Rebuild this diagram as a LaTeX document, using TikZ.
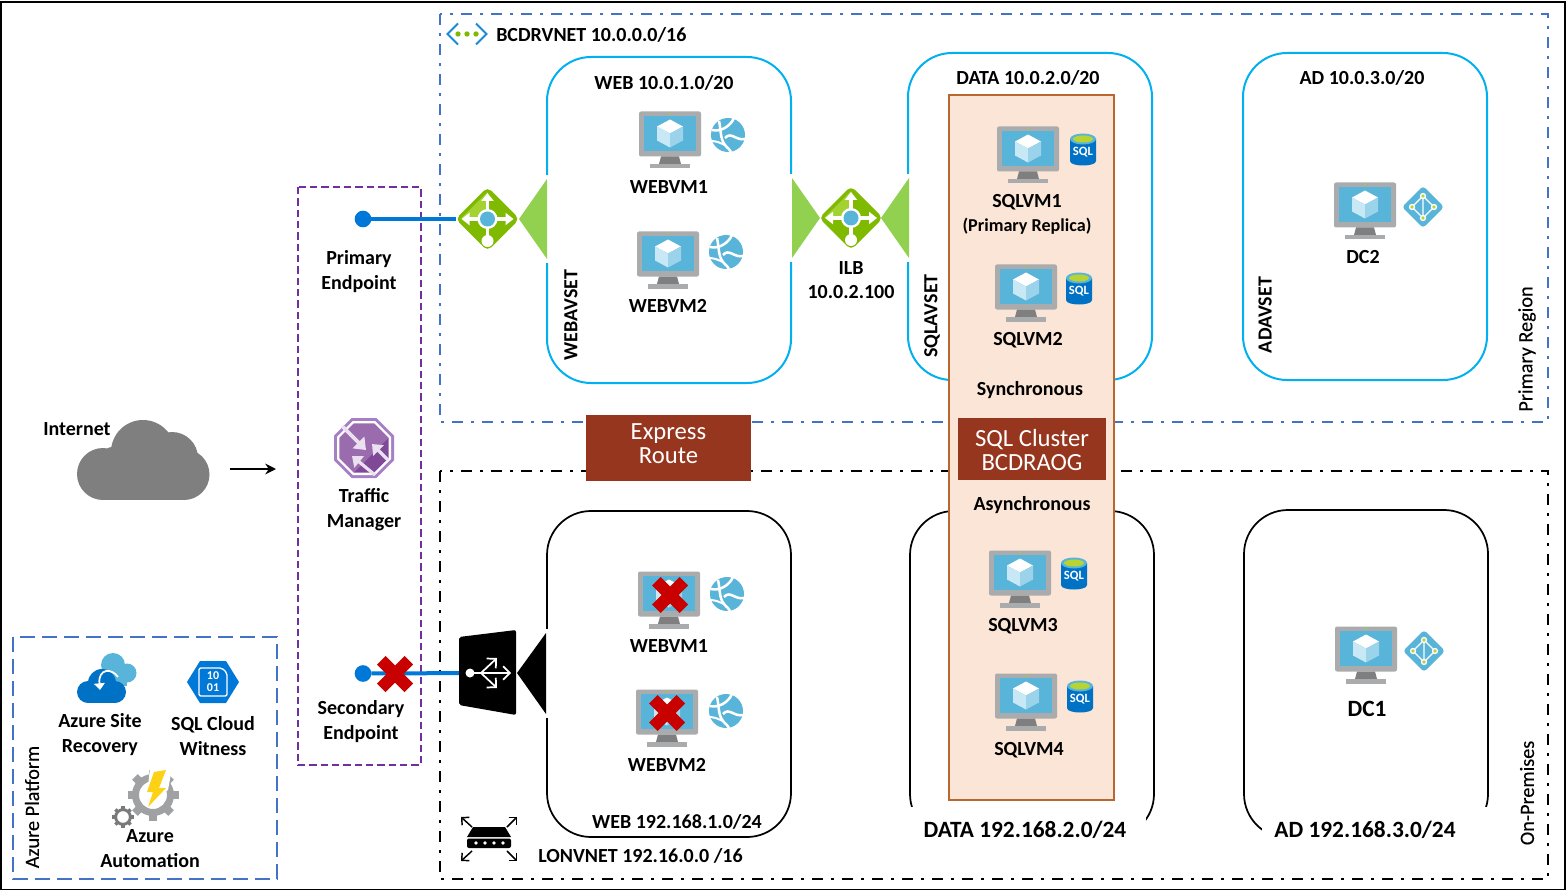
\documentclass[tikz,border=0pt]{standalone}
\usepackage{xcolor}
\usepackage{fontspec}
\setmainfont{Carlito}
\newfontfamily\sidefont{Carlito}[FakeBold=0.25]
\usetikzlibrary{arrows.meta}

\definecolor{vnetblue}{HTML}{4472C4}
\definecolor{subnetblue}{HTML}{00B0F0}
\definecolor{tmpurple}{HTML}{7030A0}
\definecolor{endblue}{HTML}{0078D7}
\definecolor{gategreen}{HTML}{92D050}
\definecolor{lbgreen}{HTML}{7FBA00}
\definecolor{lblight}{HTML}{A4D233}
\definecolor{clusterfill}{HTML}{FBE5D6}
\definecolor{clusteredge}{HTML}{B9672F}
\definecolor{brick}{HTML}{96361E}
\definecolor{vmgrey}{HTML}{A9ABAD}
\definecolor{vmstand}{HTML}{7F7F7F}
\definecolor{vmscreen}{HTML}{59B4D9}
\definecolor{cubeleft}{HTML}{C8E8F5}
\definecolor{cuberight}{HTML}{9BD3EA}
\definecolor{sqlblue}{HTML}{0072C6}
\definecolor{sqlgreen}{HTML}{B8D432}
\definecolor{crossred}{HTML}{C80000}
\definecolor{cloudgrey}{HTML}{7F7F7F}
\definecolor{tmdark}{HTML}{804998}
\definecolor{tmlight}{HTML}{9A6CAE}
\definecolor{tmedge}{HTML}{A67FC4}
\definecolor{tmarrow}{HTML}{EAE0F0}
\definecolor{gearlight}{HTML}{A0A1A2}
\definecolor{geardark}{HTML}{7A7A7A}
\definecolor{boltyellow}{HTML}{FCD116}

\begin{document}
\begin{tikzpicture}[
			x=0.75pt, y=-0.75pt,
			lab/.style={font=\fontsize{15}{18.4}\selectfont\bfseries, align=center, inner sep=0pt},
			biglab/.style={font=\fontsize{17.5}{18.4}\selectfont\bfseries, align=center, inner sep=0pt},
			smalllab/.style={font=\fontsize{13.6}{14}\selectfont\bfseries, align=center, inner sep=0pt},
			sidelab/.style={font=\fontsize{15.2}{16}\sidefont, inner sep=0pt, rotate=90},
			brickbox/.style={fill=brick, inner sep=0pt},
			bricklab/.style={text=white, font=\fontsize{18.5}{18}\selectfont, align=center, inner sep=0pt},
			vnetblueline/.style={draw=vnetblue, line width=1.9pt, dash pattern=on 8.25pt off 6pt on 2.25pt off 6pt},
			vnetblackline/.style={draw=black, line width=2.2pt, dash pattern=on 8.25pt off 6pt on 2.25pt off 6pt},
			subnetblue/.style={draw=subnetblue, line width=1.5pt, rounded corners=33pt},
			subnetblack/.style={draw=black, line width=1.3pt, rounded corners=33pt},
			iconbox/.style={minimum size=#1*0.75pt, inner sep=0pt, outer sep=0pt},
			enddot/.style={circle, fill=endblue, minimum size=12.5pt, inner sep=0pt, outer sep=0pt},
			endline/.style={draw=endblue, line width=3pt},
			arrow/.style={-{Stealth[length=8pt, width=8pt]}, line width=1.7pt},
			vmicon/.pic={
				\fill[vmgrey, rounded corners=1.5pt] (-31,-22.5) rectangle (31,22.5);
				\fill[vmscreen] (-26,-18) rectangle (26,17);
				\fill[lblight] (0,-20.5) circle[radius=1];
				\fill[vmstand] (-9,22.5) -- (9,22.5) -- (11,30) -- (-11,30) -- cycle;
				\fill[vmgrey] (-20,30) rectangle (20,34.5);
				\fill[white] (0,-14.5) -- (13,-7.5) -- (0,-0.5) -- (-13,-7.5) -- cycle;
				\fill[cubeleft] (-13,-7.5) -- (0,-0.5) -- (0,13.5) -- (-13,6.5) -- cycle;
				\fill[cuberight] (13,-7.5) -- (0,-0.5) -- (0,13.5) -- (13,6.5) -- cycle;
			},
			globeicon/.pic={
				\fill[vmscreen] (0,0) circle[radius=17];
				\draw[white, line width=1.9pt] (-16,-5) .. controls (-8,-3) and (2,-8) .. (6,-17);
				\draw[white, line width=1.9pt] (-9,-14) .. controls (-7,-6) and (-8,4) .. (-3,10) .. controls (0,14) and (2,14) .. (3,17);
				\draw[white, line width=1.9pt] (-3,3) .. controls (3,-4) and (8,6) .. (17,4);
				\draw[white, line width=1.5pt] (-17,6) .. controls (-11,6) and (-8,8) .. (-3,10);
			},
			sqlicon/.pic={
				\fill[sqlblue] (-13,-10) -- (-13,12) .. controls (-13,18) and (13,18) .. (13,12) -- (13,-10) -- cycle;
				\fill[vmscreen] (0,-10) ellipse[x radius=13, y radius=5.5];
				\fill[sqlgreen] (0,-10) ellipse[x radius=10, y radius=3.5];
				\node[text=white, font=\fontsize{9.5}{10}\selectfont\bfseries, inner sep=0pt] (-txt) at (0,3) {SQL};
			},
			adicon/.pic={
				\fill[vmscreen, rounded corners=2.5pt] (0,-21) -- (21,0) -- (0,21) -- (-21,0) -- cycle;
				\draw[white, line width=0.9pt] (0,-11) -- (0,11) -- (-11,0) -- (0,-11) -- (11,0) -- (0,11);
				\foreach \dx/\dy in {0/-11, -11/0, 11/0, 0/11} {
					\fill[white] (\dx,\dy) circle[radius=3.2];
					\fill[sqlgreen] (\dx,\dy) circle[radius=1.8];
				}
			},
			lbicon/.pic={
				\fill[lbgreen, rounded corners=4pt] (0,-32) -- (32,0) -- (0,32) -- (-32,0) -- cycle;
				\fill[lblight] (-27,0) -- (0,-27) -- (0,0) -- cycle;
				\draw[white, line width=2.6pt, -{Triangle[length=6pt, width=9pt]}] (0,0) -- (0,-26);
				\draw[white, line width=2.6pt, -{Triangle[length=6pt, width=9pt]}] (0,0) -- (-26,0);
				\draw[white, line width=2.6pt, -{Triangle[length=6pt, width=9pt]}] (0,0) -- (26,0);
				\draw[white, line width=2.6pt] (0,0) -- (0,20);
				\fill[white] (0,22) circle[radius=6];
				\fill[white] (0,0) circle[radius=10];
				\fill[vmscreen] (0,0) circle[radius=7.5];
			},
			crossmark/.pic={
				\fill[crossred] (-18,-9.5) -- (-9.5,-18) -- (0,-8.5) -- (9.5,-18) -- (18,-9.5) -- (8.5,0) -- (18,9.5) -- (9.5,18) -- (0,8.5) -- (-9.5,18) -- (-18,9.5) -- (-8.5,0) -- cycle;
			},
			gearicon/.pic={
				\fill[even odd rule] (0,0) circle[radius=21] (0,0) circle[radius=14];
				\foreach \ang in {0,45,...,315} {
					\fill[rotate=\ang] (-4,-25.5) rectangle (4,-19);
				}
			},
		]

		\useasboundingbox (0,0) rectangle (1566,891);

		% Frame
		\draw[line width=1.2pt] (1,2) rectangle (1565,889.5);

		% Virtual networks and platform boxes
		\draw[vnetblueline] (440,14) rectangle (1548,422);
		\draw[vnetblackline] (440,471) rectangle (1548,879);
		\draw[draw=tmpurple, line width=2.1pt, dash pattern=on 5.5pt off 3pt] (298,187) rectangle (421,765);
		\draw[draw=vnetblue, line width=1.9pt, dash pattern=on 11.25pt off 5.25pt] (13,637) rectangle (277,879);

		% Subnets
		\draw[subnetblue] (547,57) rectangle (791,383);
		\draw[subnetblue] (908,53) rectangle (1152,380);
		\draw[subnetblue] (1243,53) rectangle (1487,380);
		\draw[subnetblack] (547,511) rectangle (791,837);
		\draw[subnetblack] (910,511) rectangle (1154,838);
		\draw[subnetblack] (1244,510) rectangle (1488,838);
		\fill[white] (905,807) rectangle (1146,845);
		\fill[white] (1262,807) rectangle (1495,845);

		% Gateway wedges
		\foreach \bx/\ax/\cy in {547/519/219, 792/820/218, 909/881/218} {
			\fill[white] (\bx-3,\cy-44) rectangle (\bx+3,\cy+44);
			\fill[gategreen] (\ax,\cy) -- (\bx,\cy-40) -- (\bx,\cy+40) -- cycle;
		}
		\fill[white] (543,629) rectangle (550,718);
		\fill[black] (517,673) -- (546,633) -- (546,714) -- cycle;

		% SQL cluster
		\node[draw=clusteredge, fill=clusterfill, line width=1.5pt, minimum width=165*0.75pt, minimum height=705*0.75pt, inner sep=0pt] (cluster) at (1031.5,447.5) {};
		\node[brickbox, minimum width=148*0.75pt, minimum height=62*0.75pt] (sqlcluster) at (1032,449) {};
		\node[bricklab] (sqlclusterlab) at (1032,450) {SQL Cluster\\BCDRAOG};
		\node[brickbox, minimum width=165*0.75pt, minimum height=66*0.75pt] (expressroute) at (668.5,448) {};
		\node[bricklab] (expresslab) at (668.5,444) {Express\\Route};
		\node[lab] (syncnote) at (1030,390) {Synchronous};
		\node[lab] (asyncnote) at (1032,505) {Asynchronous};

		% Web tier, primary
		\pic at (670,134) {vmicon};
		\pic at (728,135) {globeicon};
		\node[lab] (webvm1) at (669,187) {WEBVM1};
		\pic at (668,254) {vmicon};
		\pic at (726,252) {globeicon};
		\node[lab] (webvm2) at (668,306) {WEBVM2};

		% SQL tier
		\pic at (1028,149) {vmicon};
		\pic at (1083,149) {sqlicon};
		\node[lab] (sqlvm1) at (1027,202) {SQLVM1};
		\node[smalllab] (replica) at (1027,226) {(Primary Replica)};
		\pic at (1026,287) {vmicon};
		\pic at (1079,288) {sqlicon};
		\node[lab] (sqlvm2) at (1028,340) {SQLVM2};
		\pic at (1020,573) {vmicon};
		\pic at (1074,573) {sqlicon};
		\node[lab] (sqlvm3) at (1023,626) {SQLVM3};
		\pic at (1026,696) {vmicon};
		\pic at (1080,696) {sqlicon};
		\node[lab] (sqlvm4) at (1029,750) {SQLVM4};

		% Domain controllers
		\pic at (1365,205) {vmicon};
		\pic at (1423,207) {adicon};
		\node[lab] (dc2) at (1363,257) {DC2};
		\pic at (1366,649) {vmicon};
		\pic at (1424,651) {adicon};
		\node[biglab] (dc1) at (1367,709) {DC1};

		% Web tier, on-premises
		\pic at (669,594) {vmicon};
		\pic at (727,594) {globeicon};
		\pic at (670,595) {crossmark};
		\node[lab] (lonweb1) at (669,646) {WEBVM1};
		\pic at (667,712) {vmicon};
		\pic at (726,711) {globeicon};
		\pic at (667,713) {crossmark};
		\node[lab] (lonweb2) at (667,765) {WEBVM2};

		% Load balancers and endpoints
		\node[iconbox=63] (weblb) at (487.5,219) {};
		\node[iconbox=63] (ilb) at (851,218) {};
		\node[iconbox=57] (longw) at (487.5,673) {};
		\node[enddot] (primary) at (363,219) {};
		\node[enddot] (secondary) at (363,673.5) {};
		\draw[endline] (primary) -- (weblb);
		\draw[endline] (secondary) -- (longw);
		\pic at (weblb) {lbicon};
		\pic at (ilb) {lbicon};
		\pic at (395,674) {crossmark};
		\fill[black, rounded corners=1.5pt] (459,637) -- (516,630) -- (516,715) -- (459,705) -- cycle;
		\fill[white] (470,673) circle[radius=4.5];
		\draw[white, line width=1.3pt, -{Straight Barb[length=5pt, width=10pt]}] (470,673) -- (511,673);
		\draw[white, line width=1.3pt, -{Straight Barb[length=5pt, width=10pt]}] (481,673) -- (497,658);
		\draw[white, line width=1.3pt, -{Straight Barb[length=5pt, width=10pt]}] (481,673) -- (497,688);

		% Virtual network glyphs
		\draw[endblue!70!vmscreen, line width=1.5pt] (458,23.5) -- (447.5,34) -- (458,44.5);
		\draw[endblue!70!vmscreen, line width=1.5pt] (476,23.5) -- (486.5,34) -- (476,44.5);
		\foreach \dotx in {458,467,476} {
			\fill[lbgreen] (\dotx,34) circle[radius=2.7];
		}
		\fill[black] (473,827) -- (505,827) -- (511,837) -- (467,837) -- cycle;
		\fill[black, rounded corners=1.5pt] (467,838.5) rectangle (511,848);
		\foreach \dotx in {476,485,494,503} {
			\fill[white] (\dotx,843) circle[radius=1.8];
		}
		\draw[line width=1.1pt, -{Straight Barb[length=4pt, width=8pt]}] (472,827) -- (461,817);
		\draw[line width=1.1pt, -{Straight Barb[length=4pt, width=8pt]}] (507,827) -- (517,817);
		\draw[line width=1.1pt, -{Straight Barb[length=4pt, width=8pt]}] (472,851) -- (461,861);
		\draw[line width=1.1pt, -{Straight Barb[length=4pt, width=8pt]}] (507,851) -- (517,861);

		% Internet and traffic manager
		\fill[cloudgrey] (103,474) circle[radius=26];
		\fill[cloudgrey] (117,466) circle[radius=20];
		\fill[cloudgrey] (143,452) circle[radius=32];
		\fill[cloudgrey] (172,458) circle[radius=26];
		\fill[cloudgrey] (184,474.5) circle[radius=25.5];
		\fill[cloudgrey] (103,470) rectangle (184,500);
		\coordinate (cloudout) at (230,469);
		\coordinate (tmin) at (276,469);
		\draw[arrow] (cloudout) -- (tmin);
		\foreach \rad/\col in {30/tmedge, 27/white, 24.5/tmdark} {
			\fill[\col, shift={(364,448)}] (\rad,-0.414*\rad) -- (\rad,0.414*\rad) -- (0.414*\rad,\rad) -- (-0.414*\rad,\rad) -- (-\rad,0.414*\rad) -- (-\rad,-0.414*\rad) -- (-0.414*\rad,-\rad) -- (0.414*\rad,-\rad) -- cycle;
		}
		\fill[tmlight, shift={(364,448)}] (-10.1,-24.5) -- (10.1,-24.5) -- (24.5,-10.1) -- (-10.1,24.5) -- (-24.5,10.1) -- (-24.5,-10.1) -- cycle;
		\draw[tmarrow, line width=2.8pt, -{Triangle[length=8pt, width=12pt]}] (342,426) -- (366,450);
		\draw[tmarrow, line width=2.4pt, -{Triangle[length=7pt, width=11pt]}] (388,460) -- (372,444);
		\draw[tmarrow, line width=2.4pt, -{Triangle[length=7pt, width=11pt]}] (375,475) -- (352,456);

		% Azure platform glyphs
		\fill[vmscreen] (113,665) circle[radius=12];
		\fill[vmscreen] (127,673) circle[radius=9.5];
		\fill[vmscreen] (103,671) rectangle (127,686);
		\fill[sqlblue] (88,692) circle[radius=11];
		\fill[sqlblue] (102,683) circle[radius=14];
		\fill[sqlblue] (115,692) circle[radius=11];
		\fill[sqlblue] (88,692) rectangle (115,703);
		\draw[white, line width=1.3pt, -{Triangle[length=5pt, width=8pt]}] (118,677) .. controls (112,668) and (98,668) .. (100,690);

		\fill[endblue] (187,682) -- (200,661) -- (226,661) -- (239,682) -- (226,703) -- (200,703) -- cycle;
		\draw[white, line width=1pt, rounded corners=1.5pt] (199,668) -- (222,668) -- (227,673) -- (227,696) -- (199,696) -- cycle;
		\node[text=white, font=\fontsize{9}{9}\selectfont\bfseries, align=center, inner sep=0pt] (witnessbits) at (213,682) {10\\01};

		\pic[color=gearlight] at (153,795) {gearicon};
		\pic[color=geardark, scale=0.42] at (123,817) {gearicon};
		\fill[white] (150,768) -- (172,768) -- (168,790) -- (146,805) -- cycle;
		\fill[boltyellow] (154,772) -- (166,770) -- (159,788) -- (166,788) -- (148,807) -- (153,792) -- (147,792) -- cycle;

		% Labels
		\node[lab, anchor=west] (bcdrvnet) at (496,35) {BCDRVNET 10.0.0.0/16};
		\node[lab] (webnet) at (664,83) {WEB 10.0.1.0/20};
		\node[lab] (datanet) at (1028,78) {DATA 10.0.2.0/20};
		\node[lab] (adnet) at (1362,78) {AD 10.0.3.0/20};
		\node[lab, rotate=90] (webavset) at (571,315) {WEBAVSET};
		\node[lab, rotate=90] (sqlavset) at (932,316) {SQLAVSET};
		\node[lab, rotate=90] (adavset) at (1265,315) {ADAVSET};
		\node[lab] (ilblab) at (851,280) {ILB\\10.0.2.100};
		\node[lab] (primarylab) at (359,271.5) {Primary\\Endpoint};
		\node[lab] (tmlab) at (364,509.5) {Traffic\\Manager};
		\node[lab] (secondarylab) at (361,721.5) {Secondary\\Endpoint};
		\node[lab] (inetlab) at (77,429) {Internet};
		\node[lab] (asrlab) at (100,734.5) {Azure Site\\Recovery};
		\node[lab] (witnesslab) at (213,736) {SQL Cloud\\Witness};
		\node[lab] (autolab) at (150,848.5) {Azure\\Automation};
		\node[lab] (lonweblab) at (677,822) {WEB 192.168.1.0/24};
		\node[lab, anchor=west] (lonvnet) at (538,856) {LONVNET 192.16.0.0 /16};
		\node[biglab] (londata) at (1025,830) {DATA 192.168.2.0/24};
		\node[biglab] (lonad) at (1365,830) {AD 192.168.3.0/24};
		\node[sidelab] (platformlab) at (32,807) {Azure Platform};
		\node[sidelab] (primaryside) at (1527,349) {Primary Region};
		\node[sidelab] (onpremside) at (1527,793) {On-Premises};

		\end{tikzpicture}
\end{document}
